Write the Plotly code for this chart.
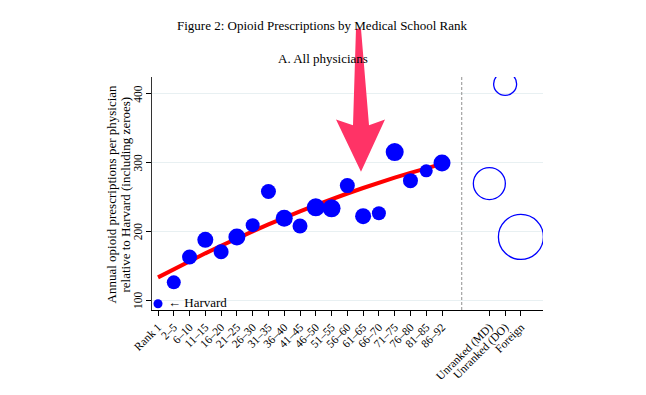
import plotly.graph_objects as go

# ---- data ----
rank_labels = ["Rank 1", "2–5", "6–10", "11–15", "16–20", "21–25", "26–30", "31–35",
               "36–40", "41–45", "46–50", "51–55", "56–60", "61–65", "66–70", "71–75",
               "76–80", "81–85", "86–92"]
rank_pos = list(range(len(rank_labels)))
rank_values = [94.7, 125.8, 162.7, 187.6, 170.3, 191.9, 209.0, 257.9, 219.1, 207.7,
               234.9, 233.5, 266.5, 222.0, 226.3, 315.3, 273.7, 288.0, 299.5]
rank_sizes = [9, 14, 15, 16, 15, 17, 14, 15, 17, 15, 18, 18, 15, 16, 14, 18, 15, 13, 17]
fit_values = [133, 145, 157, 168, 179, 190, 200, 210, 220, 229, 238, 247, 255, 263,
              271, 278, 285, 292, 298]

unranked_labels = ["Unranked (MD)", "Unranked (DO)", "Foreign"]
unranked_pos = [21, 22, 23]
unranked_values = [269.4, 414.3, 191.9]
unranked_sizes = [32, 23, 45]

y_ticks = [100, 200, 300, 400]
divider_pos = 19.25

FONT = "Liberation Serif, Times New Roman, serif"

fig = go.Figure()
fig.add_trace(go.Scatter(x=rank_pos, y=fit_values, mode="lines",
                         line=dict(color="#ff0000", width=4), hoverinfo="skip",
                         showlegend=False))
fig.add_trace(go.Scatter(x=rank_pos, y=rank_values, mode="markers",
                         marker=dict(color="#0000ff", size=rank_sizes, opacity=1,
                                     line=dict(width=0)),
                         showlegend=False))
fig.add_trace(go.Scatter(x=unranked_pos, y=unranked_values, mode="markers",
                         marker=dict(color="rgba(0,0,0,0)", size=unranked_sizes, opacity=1,
                                     line=dict(color="#0000ff", width=1.3)),
                         showlegend=False))

fig.add_shape(type="line", xref="x", yref="paper", x0=divider_pos, x1=divider_pos,
              y0=0, y1=1, line=dict(color="#909090", width=1, dash="3px,2px"))

# page has an 8px body margin; layout numbers below are in page pixels
OFF = 8
W, H = 646 - OFF, 395 - OFF
PLOT_L, PLOT_R, PLOT_T, PLOT_B = 152, 543, 77, 313   # plot area in page pixels
L, T = PLOT_L - OFF, PLOT_T - OFF
R, B = W - (PLOT_R - OFF), H - (PLOT_B - OFF)
PW, PH = PLOT_R - PLOT_L, PLOT_B - PLOT_T


def px(x, y):
    return (x - PLOT_L) / PW, (PLOT_B - y) / PH


arrow_pts = [(356, 28), (361, 28), (369, 126), (385, 120), (361, 173), (336, 120), (353, 126)]
path = "M " + " L ".join(f"{px(a, b)[0]:.4f},{px(a, b)[1]:.4f}" for a, b in arrow_pts) + " Z"

fig.add_annotation(x=0, y=rank_values[0], xref="x", yref="y", text="← Harvard",
                   showarrow=False, xanchor="left", xshift=8, yshift=1,
                   font=dict(family=FONT, size=13, color="#000000"))

# y tick labels (vertical, reading upward), positioned by the y axis scale
for v in y_ticks:
    fig.add_annotation(xref="paper", yref="y", x=px(138, 0)[0], y=v, text=str(v),
                       showarrow=False, textangle=-90, xanchor="center", yanchor="middle",
                       font=dict(family=FONT, size=11.5, color="#000000"))

fig.add_annotation(xref="paper", yref="paper", x=px(322, 0)[0], y=px(0, 25)[1],
                   text="Figure 2: Opioid Prescriptions by Medical School Rank",
                   showarrow=False, xanchor="center", yanchor="middle",
                   font=dict(family=FONT, size=13, color="#000000"))
fig.add_annotation(xref="paper", yref="paper", x=px(323, 0)[0], y=px(0, 58)[1],
                   text="A. All physicians", showarrow=False, xanchor="center",
                   yanchor="middle", font=dict(family=FONT, size=13, color="#000000"))
fig.add_annotation(xref="paper", yref="paper", x=px(111, 0)[0], y=px(0, 196)[1],
                   text="Annual opioid prescriptions per physician",
                   showarrow=False, textangle=-90, xanchor="center", yanchor="middle",
                   font=dict(family=FONT, size=13, color="#000000"))
fig.add_annotation(xref="paper", yref="paper", x=px(125, 0)[0], y=px(0, 196)[1],
                   text="relative to Harvard (including zeroes)",
                   showarrow=False, textangle=-90, xanchor="center", yanchor="middle",
                   font=dict(family=FONT, size=13, color="#000000"))

fig.add_shape(type="path", xref="paper", yref="paper", path=path,
              fillcolor="#ff3366", line=dict(width=0), layer="above")

fig.update_layout(
    width=W, height=H,
    margin=dict(l=L, r=R, t=T, b=B, pad=0),
    paper_bgcolor="white", plot_bgcolor="white",
    font=dict(family=FONT, size=11, color="#000000"),
    xaxis=dict(range=[-0.38, 24.4], tickmode="array",
               tickvals=rank_pos + unranked_pos, ticktext=rank_labels + unranked_labels,
               tickangle=-45, ticks="outside", ticklen=5, tickcolor="#000000",
               showgrid=False, zeroline=False, showline=True, linecolor="#000000",
               linewidth=1, tickfont=dict(family=FONT, size=11.5)),
    yaxis=dict(range=[85.6, 424.4], tickmode="array", tickvals=y_ticks,
               showticklabels=False, ticks="outside", ticklen=5, tickcolor="#000000",
               showgrid=True, gridcolor="#e8f0f2", gridwidth=1, zeroline=False,
               showline=True, linecolor="#333333", linewidth=1),
)

fig.write_html("out.html")
